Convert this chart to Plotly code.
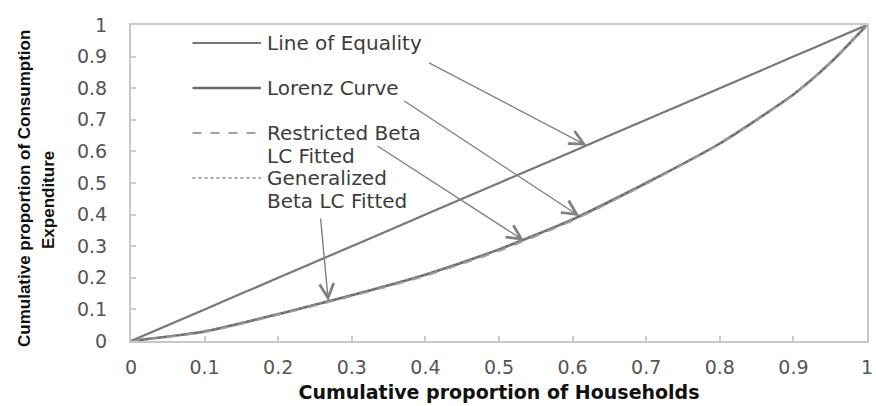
import numpy as np
import plotly.graph_objects as go

# cumulative proportion of households
x_share = [0, 0.1, 0.2, 0.3, 0.4, 0.5, 0.6, 0.7, 0.8, 0.9, 0.95, 1.0]
equality = [0, 0.1, 0.2, 0.3, 0.4, 0.5, 0.6, 0.7, 0.8, 0.9, 0.95, 1.0]
lorenz = [0, 0.03, 0.085, 0.145, 0.21, 0.29, 0.385, 0.5, 0.625, 0.78, 0.88, 1.0]
restricted_beta = [0, 0.028, 0.083, 0.142, 0.206, 0.285, 0.381, 0.497, 0.624, 0.779, 0.879, 1.0]
generalized_beta = [0, 0.031, 0.086, 0.146, 0.211, 0.291, 0.386, 0.501, 0.626, 0.781, 0.881, 1.0]

tick_vals = [0, 0.1, 0.2, 0.3, 0.4, 0.5, 0.6, 0.7, 0.8, 0.9, 1]
tick_text = ["0", "0.1", "0.2", "0.3", "0.4", "0.5", "0.6", "0.7", "0.8", "0.9", "1"]

FONT = "DejaVu Sans"
NARROW = "Liberation Sans Narrow, Liberation Sans"
GREY = "#777777"

# plot area in pixels, used to place the hand-made legend
PX_L, PX_R, PX_T, PX_B = 131, 873, 25, 341


def to_x(px):
    return (px - PX_L) / (PX_R - PX_L)


def to_y(py):
    return (PX_B - py) / (PX_B - PX_T)


fig = go.Figure()

series = [
    (["Line of Equality"], equality, dict(color=GREY, width=2.2)),
    (["Lorenz Curve"], lorenz, dict(color="#6a6a6a", width=2.6)),
    (["Restricted Beta", "LC Fitted"], restricted_beta, dict(color="#a0a0a0", width=2, dash="dash")),
    (["Generalized", "Beta LC Fitted"], generalized_beta, dict(color="#8a8a8a", width=1.5, dash="dot")),
]

for name, vals, line in series:
    fig.add_trace(go.Scatter(x=x_share, y=vals, mode="lines", name=" ".join(name),
                             line=dict(**line, shape="spline", smoothing=0.6),
                             showlegend=False))

# legend drawn by hand, Excel style (tight line spacing)
legend_rows = [43, 88, 133, 178]
for (name, vals, line), row in zip(series, legend_rows):
    fig.add_shape(type="line", x0=to_x(193), x1=to_x(262), y0=to_y(row), y1=to_y(row),
                  xref="x", yref="y", line=line)
    for i, part in enumerate(name):
        fig.add_annotation(x=to_x(266), y=to_y(row + i * 22.7), text=part,
                           showarrow=False, xanchor="left", yanchor="middle",
                           font=dict(family=FONT, size=20, color="#3c3c3c"))

# arrows from the legend to the curves
arrows = [
    (equality, 0.619, 430, 62),
    (lorenz, 0.609, 405, 100),
    (restricted_beta, 0.534, 378, 145),
    (generalized_beta, 0.268, 322, 217),
]
for vals, tip_x, tail_px, tail_py in arrows:
    fig.add_annotation(x=tip_x, y=float(np.interp(tip_x, x_share, vals)),
                       ax=to_x(tail_px), ay=to_y(tail_py), axref="x", ayref="y",
                       xref="x", yref="y", text="", showarrow=True,
                       arrowhead=5, arrowsize=2.0, arrowwidth=1.4, arrowcolor="#808080")

# y axis title, two lines as in the original
fig.add_annotation(x=0, y=to_y(189), xref="paper", yref="y", xshift=-(PX_L - 24),
                   xanchor="center", yanchor="middle",
                   text="<b>Cumulative proportion of Consumption</b>", textangle=-90,
                   showarrow=False, font=dict(family=NARROW, size=17, color="#111111"))
fig.add_annotation(x=0, y=to_y(200), xref="paper", yref="y", xshift=-(PX_L - 48),
                   xanchor="center", yanchor="middle",
                   text="<b>Expenditure</b>", textangle=-90,
                   showarrow=False, font=dict(family=NARROW, size=17, color="#111111"))

axis_style = dict(
    range=[0, 1],
    tickvals=tick_vals,
    ticktext=tick_text,
    ticks="inside",
    ticklen=5,
    tickwidth=2,
    tickcolor="#cccccc",
    showline=True,
    linecolor="#c8c8c8",
    linewidth=2,
    mirror=True,
    showgrid=False,
    zeroline=False,
    ticklabeloverflow="allow",
    tickfont=dict(family=FONT, size=19, color="#555555"),
)

fig.update_layout(
    width=876,
    height=406,
    plot_bgcolor="white",
    paper_bgcolor="white",
    margin=dict(l=131, r=3, t=25, b=65),
    xaxis=dict(
        **axis_style,
        ticklabelstandoff=8,
        title=dict(text="<b>Cumulative proportion of Households</b>",
                   font=dict(family=FONT, size=19, color="#111111"), standoff=9),
    ),
    yaxis=dict(**axis_style, ticklabelstandoff=18),
)

# page body has a default margin; drop it so the figure sits at the corner
fig.write_html("out.html", config={"displayModeBar": False},
               post_script="document.body.style.margin='0';")
